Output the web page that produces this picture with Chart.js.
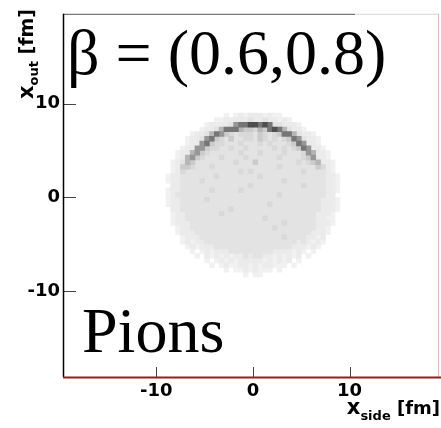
<!DOCTYPE html>
<html lang="en">
  <head>
    <meta charset="UTF-8" />
    <script src="https://cdn.jsdelivr.net/npm/chart.js"></script>
    <title>Pions emission map</title>
    <style>
      html, body { margin: 0; padding: 0; background: #fff; }
      #wrap { width: 441px; height: 428px; }
    </style>
  </head>
  <body>
    <div id="wrap"><canvas id="map"></canvas></div>

    <script>
      // axis ranges (fm)
      const xRange = [-19.65, 19.25];
      const yRange = [-19.2, 19.6];
      const tickValues = [-10, 0, 10];

      // histogram binning: 0.5 fm cells, first row's top edge at y = 9, column 0 starts at x = -9.5
      const binSize = 0.5;
      const gridLeft = -9.5;
      const gridTop = 9.0;

      // gray level for each count class (0 = empty)
      const grayLevels = ['#ffffff', '#f1f1f1', '#ebebeb', '#e3e3e3', '#d9d9d9',
                          '#cbcbcb', '#b6b6b6', '#979797', '#767676', '#4e4e4e'];

      // first filled column of every row, and the count classes from there on
      const rowStart = [13, 11, 9, 8, 6, 5, 5, 4, 3, 3, 2, 2, 2, 1, 1, 1, 1, 1, 1, 1, 1,
                        2, 2, 2, 3, 3, 4, 4, 5, 6, 7, 9, 10, 13, 17];
      const rowCells = [
        '101212221211',
        '1122222322322121',
        '12222378899898332221',
        '1223688865546589863221',
        '12236875434443543458863221',
        '1223785435334435434345873221',
        '1227854433343334343334587221',
        '122775443343343333343434587221',
        '12267543333334333433334333476221',
        '12675433343333433333343333457221',
        '1236533333333433353333333343456221',
        '1255433343333333333333433333335421',
        '1243333333333343433333333334333321',
        '122333333343333333343333333333333221',
        '122333343333333333333333433333333221',
        '022333333333333334333333333343333221',
        '122333333433333433333333333333333221',
        '123333333333333333333334333333333220',
        '122333334333333333333333333333332221',
        '122333333333333333333433333333332221',
        '022333333333343333333333333333332221',
        '1223333333433333333333333333332221',
        '1223333333333333333433333333332211',
        '1222333333333333333333343333332221',
        '12233333333333333333433333333221',
        '12223333333333333333333333332221',
        '122233333333333333333433332212',
        '121223333333333333333333232121',
        '1212223333333333333333222121',
        '10121222333333333222212101',
        '102121212232332212121201',
        '10121212222212121201',
        '101211221212211101',
        '101121211101',
        '1011'
      ];

      // one point per non-empty cell, placed at the cell centre
      const cells = [];
      rowCells.forEach((row, r) => {
        for (let c = 0; c < row.length; c++) {
          const v = +row[c];
          if (!v) continue;
          cells.push({
            x: gridLeft + (rowStart[r] + c + 0.5) * binSize,
            y: gridTop - (r + 0.5) * binSize,
            v: v
          });
        }
      });
      // draw light cells first so dark ones sit on top
      cells.sort((a, b) => a.v - b.v);

      function cellRadius(ctx) {
        const s = ctx.chart.scales.x;
        const side = Math.abs(s.getPixelForValue(binSize) - s.getPixelForValue(0)) + 0.6;
        return side / Math.SQRT2;
      }

      const frameAndLabels = {
        id: 'frameAndLabels',
        afterDraw(chart) {
          const { ctx, chartArea: a, scales: { x, y } } = chart;
          ctx.save();

          // tick marks pointing into the frame
          ctx.strokeStyle = '#444';
          ctx.lineWidth = 1;
          ctx.beginPath();
          tickValues.forEach(v => {
            const py = Math.round(y.getPixelForValue(v)) + 0.5;
            ctx.moveTo(a.left, py);
            ctx.lineTo(a.left + 13, py);
            const px = Math.round(x.getPixelForValue(v)) + 0.5;
            ctx.moveTo(px, a.bottom);
            ctx.lineTo(px, a.bottom - 10);
          });
          ctx.stroke();

          // frame
          ctx.lineWidth = 1;
          ctx.strokeStyle = '#555';
          ctx.beginPath();
          ctx.moveTo(a.left, a.top + 0.5);
          ctx.lineTo(355, a.top + 0.5);
          ctx.stroke();
          ctx.strokeStyle = '#d8d8d8';
          ctx.beginPath();
          ctx.moveTo(355, a.top + 0.5);
          ctx.lineTo(a.right, a.top + 0.5);
          ctx.stroke();
          ctx.strokeStyle = '#f2b4b4';
          ctx.beginPath();
          ctx.moveTo(a.right - 0.5, a.top);
          ctx.lineTo(a.right - 0.5, a.bottom);
          ctx.stroke();
          ctx.strokeStyle = '#000';
          ctx.lineWidth = 1.5;
          ctx.beginPath();
          ctx.moveTo(a.left + 0.5, a.top);
          ctx.lineTo(a.left + 0.5, a.bottom);
          ctx.stroke();
          ctx.strokeStyle = '#9a1c1c';
          ctx.lineWidth = 2;
          ctx.beginPath();
          ctx.moveTo(a.left, a.bottom + 0.5);
          ctx.lineTo(chart.width, a.bottom + 0.5);
          ctx.stroke();

          ctx.fillStyle = '#000';
          ctx.textBaseline = 'alphabetic';
          ctx.textAlign = 'left';

          // x axis title, right aligned
          const big = 'bold 21px "DejaVu Sans"', sub = 'bold 13px "DejaVu Sans"', unit = 'bold 18px "DejaVu Sans"';
          ctx.font = big; const w1 = ctx.measureText('x').width;
          ctx.font = sub; const w2 = ctx.measureText('side').width;
          ctx.font = unit; const w3 = ctx.measureText(' [fm]').width;
          let tx = 440 - (w1 + w2 + w3);
          const ty = 414;
          ctx.font = big; ctx.fillText('x', tx, ty); tx += w1;
          ctx.font = sub; ctx.fillText('side', tx, ty + 6); tx += w2;
          ctx.font = unit; ctx.fillText(' [fm]', tx, ty);

          // y axis title, rotated, ending near the top
          ctx.save();
          ctx.translate(33, 99);
          ctx.rotate(-Math.PI / 2);
          let ry = 0;
          ctx.font = big; ctx.fillText('x', ry, 0); ry += w1;
          ctx.font = sub; const wo = ctx.measureText('out').width;
          ctx.fillText('out', ry, 5); ry += wo;
          ctx.font = 'bold 19px "DejaVu Sans"'; ctx.fillText(' [fm]', ry, 0);
          ctx.restore();

          // labels inside the frame
          ctx.font = '64px "Liberation Serif"';
          ctx.fillText('\u03b2 = (0.6,0.8)', 67, 74);
          ctx.fillText('Pions', 82, 352);

          ctx.restore();
        }
      };

      new Chart(document.getElementById('map'), {
        type: 'scatter',
        data: {
          datasets: [{
            data: cells,
            pointStyle: 'rect',
            borderWidth: 0,
            radius: cellRadius,
            hoverRadius: cellRadius,
            backgroundColor: ctx => grayLevels[ctx.raw ? ctx.raw.v : 0]
          }]
        },
        options: {
          responsive: true,
          maintainAspectRatio: false,
          animation: false,
          events: [],
          layout: { padding: { top: 5, right: 2, left: 0, bottom: 0 } },
          plugins: { legend: { display: false }, tooltip: { enabled: false } },
          scales: {
            x: {
              type: 'linear',
              min: xRange[0],
              max: xRange[1],
              grid: { display: false, drawTicks: false },
              border: { display: false },
              ticks: {
                color: '#000',
                padding: 4,
                maxRotation: 0,
                font: { family: 'DejaVu Sans', weight: 'bold', size: 18 }
              },
              afterBuildTicks: s => { s.ticks = tickValues.map(v => ({ value: v })); },
              afterFit: s => { s.height = 51; }
            },
            y: {
              type: 'linear',
              min: yRange[0],
              max: yRange[1],
              grid: { display: false, drawTicks: false },
              border: { display: false },
              ticks: {
                color: '#000',
                padding: 3,
                font: { family: 'DejaVu Sans', weight: 'bold', size: 18 }
              },
              afterBuildTicks: s => { s.ticks = tickValues.map(v => ({ value: v })); },
              afterFit: s => { s.width = 63; }
            }
          }
        },
        plugins: [frameAndLabels]
      });
    </script>
  </body>
</html>
